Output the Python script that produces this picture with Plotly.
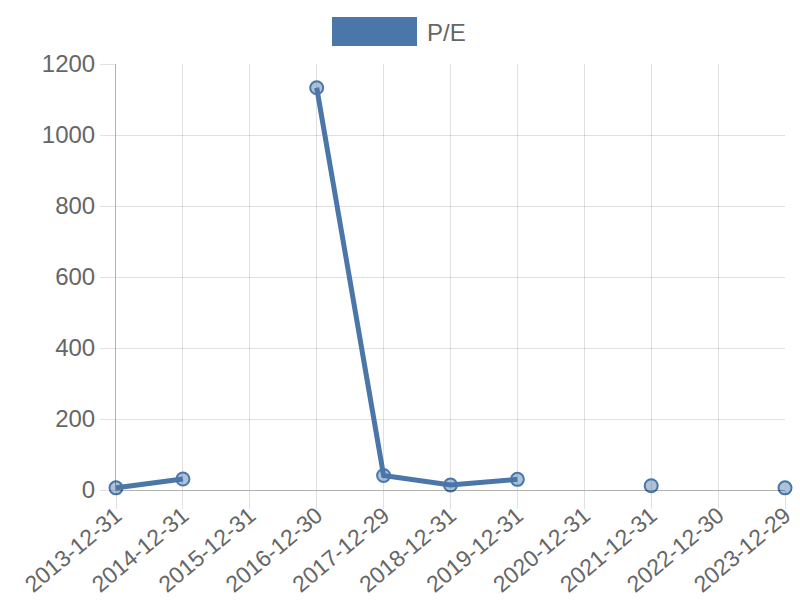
import plotly.graph_objects as go

categories = ["2013-12-31", "2014-12-31", "2015-12-31", "2016-12-30", "2017-12-29",
              "2018-12-31", "2019-12-31", "2020-12-31", "2021-12-31", "2022-12-30", "2023-12-29"]
pe_values = [6, 31, None, 1133, 41, 14, 30, None, 12, None, 6]
series_name = "P/E"

color = "#4a76a8"
font_family = "Liberation Sans, Arial, sans-serif"
grey = "#666666"

fig = go.Figure()
fig.add_trace(go.Scatter(
    x=categories, y=pe_values, name=series_name, mode="lines+markers",
    line=dict(color=color, width=5),
    marker=dict(size=13, color="rgba(74,118,168,0.45)", line=dict(color=color, width=2)),
    connectgaps=False, cliponaxis=False, showlegend=False,
))

fig.update_layout(
    width=800, height=600,
    margin=dict(l=116, r=15, t=64, b=110),
    paper_bgcolor="white", plot_bgcolor="white",
    font=dict(family=font_family, color=grey, size=24),
    xaxis=dict(
        type="category", range=[0, len(categories) - 1], automargin=False,
        showgrid=True, gridcolor="rgba(0,0,0,0.12)", gridwidth=1,
        ticks="outside", ticklen=18, tickcolor="rgba(0,0,0,0.12)",
        tickangle=-40, tickfont=dict(size=23, color=grey),
        ticklabelstandoff=-16,
        showline=True, linecolor="rgba(0,0,0,0.3)", linewidth=1,
        zeroline=False,
    ),
    yaxis=dict(
        range=[0, 1200], dtick=200, automargin=False,
        showgrid=True, gridcolor="rgba(0,0,0,0.12)", gridwidth=1,
        ticks="outside", ticklen=15, tickcolor="rgba(0,0,0,0.12)",
        tickfont=dict(size=24, color=grey),
        showline=True, linecolor="rgba(0,0,0,0.3)", linewidth=1,
        zeroline=False,
    ),
    shapes=[dict(type="rect", xref="paper", yref="paper",
                 x0=(332 - 116) / 669, x1=(417 - 116) / 669,
                 y0=(490 - 46) / 426, y1=(490 - 17) / 426,
                 fillcolor=color, line=dict(width=0))],
    annotations=[dict(text=series_name, xref="paper", yref="paper",
                      x=(425 - 116) / 669, y=(490 - 32) / 426,
                      xanchor="left", yanchor="middle", showarrow=False,
                      font=dict(size=24, color=grey))],
)

fig.write_html("out.html", config={"displayModeBar": False},
               post_script="document.body.style.margin='0';")
